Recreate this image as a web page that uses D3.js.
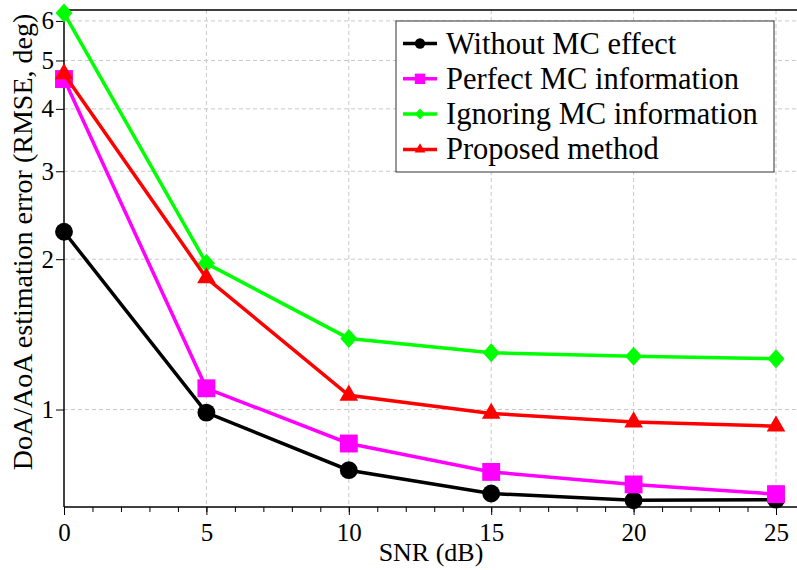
<!DOCTYPE html>
<html>
<head>
<meta charset="utf-8">
<script src="https://cdn.jsdelivr.net/npm/d3@7"></script>
<style>
  body { margin: 0; background: #fff; }
  text { font-family: "Liberation Serif", "Times New Roman", serif; fill: #000; }
</style>
</head>
<body>
<script>
var svgWidth = 797;
var svgHeight = 570;
var margin = {top: 10, left: 64, bottom: 63};

// data
var snr = [0, 5, 10, 15, 20, 25];
var withoutMC = [2.27, 0.986, 0.756, 0.679, 0.658, 0.660];
var perfectMC = [4.59, 1.103, 0.855, 0.750, 0.708, 0.677];
var ignoringMC = [6.22, 1.962, 1.388, 1.299, 1.279, 1.264];
var proposed = [4.70, 1.834, 1.068, 0.982, 0.944, 0.926];
var yTicks = [1, 2, 3, 4, 5, 6];
var xTicks = [0, 5, 10, 15, 20, 25];

var seriesList = [
  {name: "Without MC effect", values: withoutMC, color: "#000000", symbol: "circle"},
  {name: "Perfect MC information", values: perfectMC, color: "#ff00ff", symbol: "square"},
  {name: "Ignoring MC information", values: ignoringMC, color: "#00ff00", symbol: "diamond"},
  {name: "Proposed method", values: proposed, color: "#ff0000", symbol: "triangle"}
];

var svg = d3.select("body").append("svg")
            .attr("width", svgWidth)
            .attr("height", svgHeight);

var bottomY = svgHeight - margin.bottom;

var x = d3.scaleLinear().domain([0, 26]).range([margin.left, margin.left + 26 * 28.48]);
var y = d3.scaleLog().domain([0.638, 6.31]).range([bottomY, margin.top]);

// grid
var grid = svg.append("g");
grid.selectAll("line.hg").data(yTicks).enter().append("line")
    .attr("x1", margin.left).attr("x2", svgWidth)
    .attr("y1", d => y(d)).attr("y2", d => y(d))
    .attr("stroke", "#c8c8c8").attr("stroke-width", 1).attr("stroke-dasharray", "4,3");
grid.selectAll("line.vg").data(xTicks.slice(1)).enter().append("line")
    .attr("x1", d => x(d)).attr("x2", d => x(d))
    .attr("y1", margin.top).attr("y2", bottomY)
    .attr("stroke", "#c8c8c8").attr("stroke-width", 1).attr("stroke-dasharray", "4,3");

// x axis: minor ticks every 1 dB, longer ticks with labels every 5 dB
var minorAxis = d3.axisBottom(x).tickValues(d3.range(0, 26)).tickSize(5).tickFormat("");
svg.append("g")
   .attr("transform", `translate(0, ${bottomY})`)
   .call(minorAxis)
   .call(g => g.select(".domain").remove());
var xAxis = d3.axisBottom(x).tickValues(xTicks).tickSize(8).tickPadding(5);
svg.append("g")
   .attr("transform", `translate(0, ${bottomY})`)
   .call(xAxis)
   .call(g => g.select(".domain").remove())
   .call(g => g.selectAll("text").attr("font-size", 25).attr("font-family", "Liberation Serif").attr("dy", "0.85em"));
svg.append("line").attr("x1", margin.left).attr("x2", svgWidth)
   .attr("y1", bottomY).attr("y2", bottomY).attr("stroke", "#000").attr("stroke-width", 1.5);

// y axis
var yAxis = d3.axisLeft(y).tickValues(yTicks).tickSize(8).tickFormat(d3.format("d"));
svg.append("g")
   .attr("transform", `translate(${margin.left}, 0)`)
   .call(yAxis)
   .call(g => g.select(".domain").remove())
   .call(g => g.selectAll("text").attr("font-size", 25).attr("font-family", "Liberation Serif").attr("x", -10));
svg.append("line").attr("x1", margin.left).attr("x2", margin.left)
   .attr("y1", margin.top).attr("y2", bottomY).attr("stroke", "#000").attr("stroke-width", 1.5);
svg.append("line").attr("x1", margin.left).attr("x2", svgWidth)
   .attr("y1", margin.top).attr("y2", margin.top).attr("stroke", "#000").attr("stroke-width", 1.5);

// axis labels
svg.append("text")
   .attr("x", 431).attr("y", 561)
   .attr("text-anchor", "middle")
   .attr("font-size", 26)
   .text("SNR (dB)");

svg.append("text")
   .attr("transform", "rotate(-90)")
   .attr("x", -242).attr("y", 32)
   .attr("text-anchor", "middle")
   .attr("font-size", 28)
   .text("DoA/AoA estimation error (RMSE, deg)");

// series
var line = d3.line().x((d, i) => x(snr[i])).y(d => y(d));

// marker shapes, k scales them for the legend
function markerPath(symbol, k) {
  if (symbol === "diamond") {
    var w = 8.5 * k, h = 9.5 * k;
    return `M0,${-h}L${w},0L0,${h}L${-w},0Z`;
  }
  var types = {circle: d3.symbolCircle, square: d3.symbolSquare, triangle: d3.symbolTriangle};
  var sizes = {circle: 250, square: 320, triangle: 150};
  return d3.symbol().type(types[symbol]).size(sizes[symbol] * k * k)();
}

var plot = svg.append("g");
seriesList.forEach(function(s) {
  plot.append("path")
      .datum(s.values)
      .attr("d", line)
      .attr("fill", "none")
      .attr("stroke", s.color)
      .attr("stroke-width", 3.5);
  plot.selectAll(null)
      .data(s.values)
      .enter()
      .append("path")
      .attr("transform", (d, i) => `translate(${x(snr[i])}, ${y(d)})`)
      .attr("d", markerPath(s.symbol, 1))
      .attr("fill", s.color);
});

// legend
var legend = svg.append("g").attr("transform", "translate(396, 21)");
legend.append("rect")
      .attr("width", 378).attr("height", 151)
      .attr("fill", "#fff").attr("stroke", "#333").attr("stroke-width", 1);
var items = legend.selectAll("g.item").data(seriesList).enter().append("g")
      .attr("transform", (d, i) => `translate(0, ${22.5 + i * 35.3})`);
items.append("line")
     .attr("x1", 7).attr("x2", 41)
     .attr("stroke", d => d.color).attr("stroke-width", 3.5);
items.append("path")
     .attr("transform", "translate(24, 0)")
     .attr("d", d => markerPath(d.symbol, 0.58))
     .attr("fill", d => d.color);
items.append("text")
     .attr("x", 50).attr("dy", "0.33em")
     .attr("font-size", 30.5)
     .text(d => d.name);
</script>
</body>
</html>
